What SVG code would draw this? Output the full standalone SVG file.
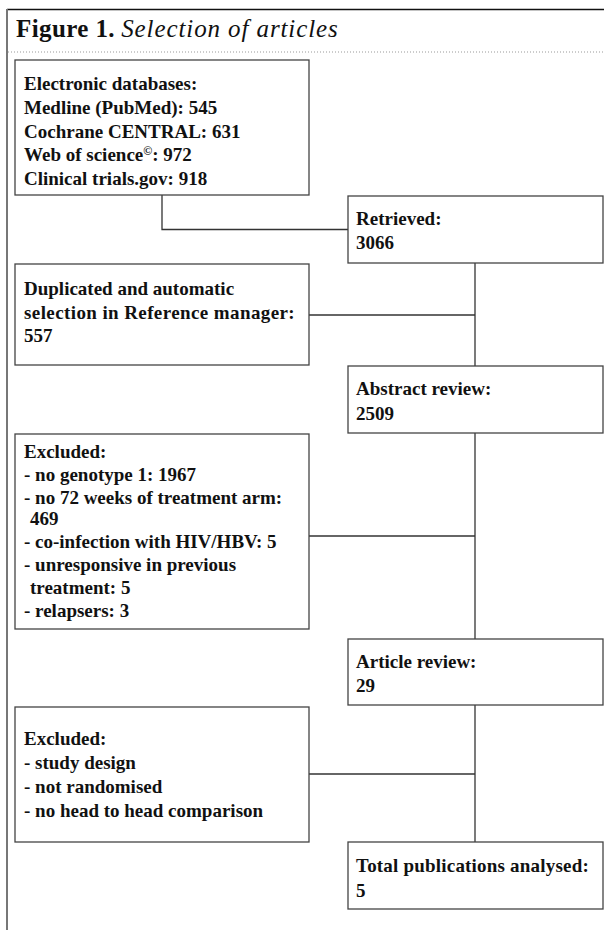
<svg xmlns="http://www.w3.org/2000/svg" width="604" height="930" viewBox="0 0 604 930">
<style>
  .box { fill: #fff; stroke: #444; stroke-width: 1.3; }
  .t { font-family: "Liberation Serif", "Times New Roman", serif; font-weight: bold; font-size: 19px; fill: #111; }
  .conn { fill: none; stroke: #333; stroke-width: 1.3; }
  .title { font-family: "Liberation Serif", "Times New Roman", serif; font-size: 25px; fill: #111; }
</style>
<rect width="604" height="930" fill="#fff"/>
<g id="frame">
  <line x1="7" y1="9.5" x2="604" y2="9.5" stroke="#111" stroke-width="1.6"/>
  <line x1="7" y1="9" x2="7" y2="930" stroke="#777" stroke-width="2"/>
  <line x1="8" y1="52" x2="604" y2="52" stroke="#999" stroke-width="1" stroke-dasharray="1 2"/>
  <text class="title" x="16" y="37"><tspan font-weight="bold" letter-spacing="0.4">Figure 1.</tspan> <tspan font-style="italic" letter-spacing="0.9">Selection of articles</tspan></text>
</g>
<g id="connectors">
  <polyline class="conn" points="162,195 162,229.5 348,229.5"/>
  <line class="conn" x1="475" y1="263" x2="475" y2="366"/>
  <line class="conn" x1="309" y1="315" x2="475" y2="315"/>
  <line class="conn" x1="475" y1="433" x2="475" y2="639"/>
  <line class="conn" x1="309" y1="536" x2="475" y2="536"/>
  <line class="conn" x1="475" y1="705" x2="475" y2="842"/>
  <line class="conn" x1="309" y1="774" x2="475" y2="774"/>
</g>
<g id="databases">
  <rect class="box" x="15" y="60" width="294" height="135"/>
  <text class="t" x="24" y="90">Electronic databases:</text>
  <text class="t" x="24" y="113.75">Medline (PubMed): 545</text>
  <text class="t" x="24" y="137.5">Cochrane CENTRAL: 631</text>
  <text class="t" x="24" y="161.25">Web of science<tspan font-size="12" dy="-6">©</tspan><tspan dy="6">: 972</tspan></text>
  <text class="t" x="24" y="185">Clinical trials.gov: 918</text>
</g>
<g id="retrieved">
  <rect class="box" x="348" y="196" width="255" height="67"/>
  <text class="t" x="356" y="225">Retrieved:</text>
  <text class="t" x="356" y="249">3066</text>
</g>
<g id="duplicated">
  <rect class="box" x="15" y="264" width="294" height="101"/>
  <text class="t" x="24" y="295">Duplicated and automatic</text>
  <text class="t" x="24" y="318.5" letter-spacing="0.4">selection in Reference manager:</text>
  <text class="t" x="24" y="342">557</text>
</g>
<g id="abstract">
  <rect class="box" x="348" y="366" width="255" height="67"/>
  <text class="t" x="356" y="395">Abstract review:</text>
  <text class="t" x="356" y="420">2509</text>
</g>
<g id="excluded1">
  <rect class="box" x="15" y="434" width="294" height="195"/>
  <text class="t" x="24" y="458">Excluded:</text>
  <text class="t" x="24" y="481">- no genotype 1: 1967</text>
  <text class="t" x="24" y="504">- no 72 weeks of treatment arm:</text>
  <text class="t" x="30" y="525">469</text>
  <text class="t" x="24" y="548">- co-infection with HIV/HBV: 5</text>
  <text class="t" x="24" y="571">- unresponsive in previous</text>
  <text class="t" x="30" y="594">treatment: 5</text>
  <text class="t" x="24" y="617">- relapsers: 3</text>
</g>
<g id="article">
  <rect class="box" x="348" y="639" width="255" height="66"/>
  <text class="t" x="356" y="668">Article review:</text>
  <text class="t" x="356" y="692">29</text>
</g>
<g id="excluded2">
  <rect class="box" x="15" y="707" width="294" height="135"/>
  <text class="t" x="24" y="745">Excluded:</text>
  <text class="t" x="24" y="769">- study design</text>
  <text class="t" x="24" y="793">- not randomised</text>
  <text class="t" x="24" y="817">- no head to head comparison</text>
</g>
<g id="total">
  <rect class="box" x="348" y="842" width="255" height="67"/>
  <text class="t" x="356" y="872" letter-spacing="0.2">Total publications analysed:</text>
  <text class="t" x="356" y="897">5</text>
</g>
</svg>
